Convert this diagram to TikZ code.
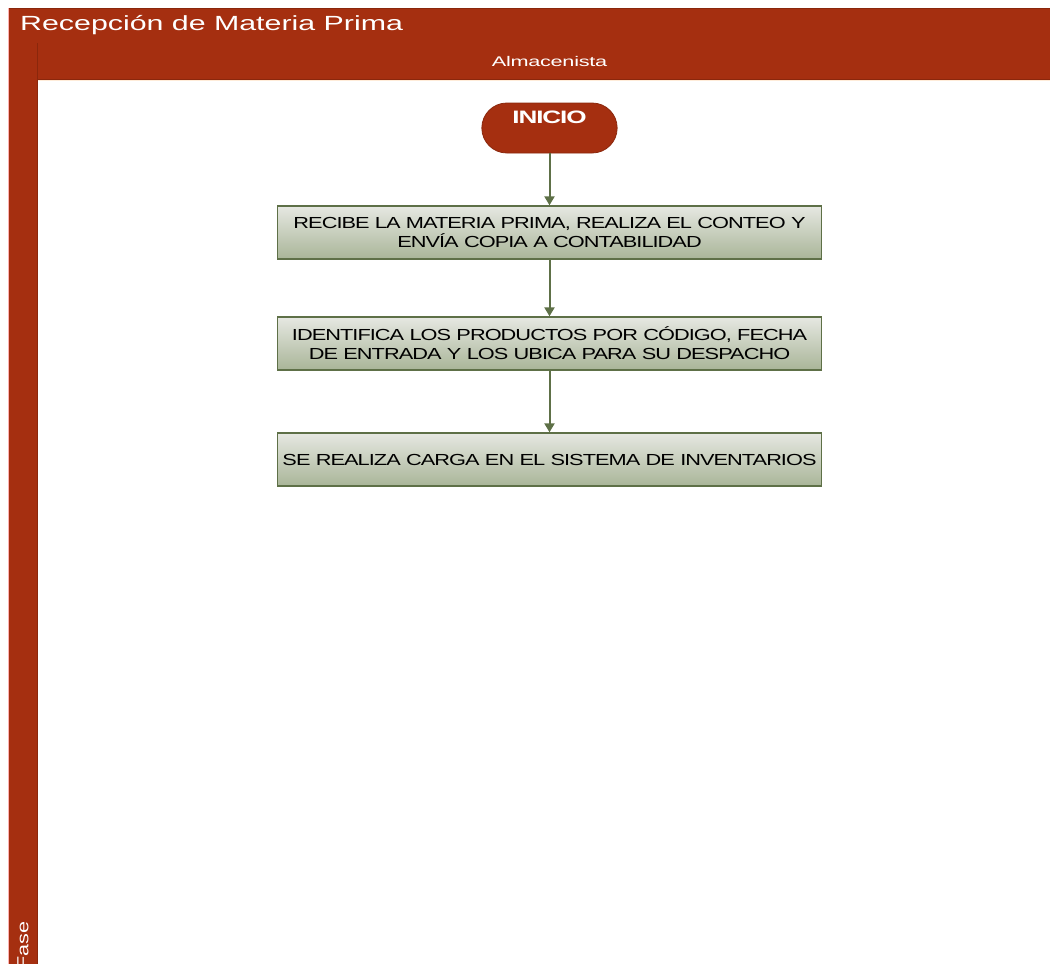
\documentclass[tikz,border=0pt]{standalone}
\usepackage{fontspec}
\setmainfont{Liberation Sans}
\usetikzlibrary{arrows.meta,shapes.misc}
\definecolor{rust}{HTML}{A52F10}
\definecolor{rustdark}{HTML}{8A270C}
\definecolor{olive}{HTML}{5E7047}
\definecolor{boxtop}{HTML}{E6E8E2}
\definecolor{boxbot}{HTML}{A9B598}
\tikzset{
  stepbox/.style={draw=olive, line width=1.3pt, top color=boxtop, bottom color=boxbot,
    minimum width=543pt, minimum height=53pt, inner sep=2pt, align=center,
    text width=540pt, font=\fontsize{16}{19}\selectfont\addfontfeatures{FakeStretch=1.36,LetterSpace=-6}},
  term/.style={rounded rectangle, draw=rustdark, line width=0.8pt, fill=rust,
    minimum width=142pt, minimum height=50pt},
  flow/.style={draw=olive, line width=2pt, -{Triangle[length=9pt,width=10pt]}},
}
\begin{document}
\begin{tikzpicture}[x=1pt,y=-1pt]
\useasboundingbox (0,0) rectangle (1050,964);
% title bar
\fill[rust] (8,8) rectangle (1050,43);
\draw[rustdark, line width=1pt] (8,8.5) -- (1050,8.5);
\draw[rustdark, line width=1pt] (8,43) -- (1050,43);
\node[anchor=west, text=white, font=\fontsize{20.5}{22}\selectfont\addfontfeatures{FakeStretch=1.48}, inner sep=0pt] (title) at (20,25) {Recepción de Materia Prima};
% left bar
\fill[rust] (8,43) rectangle (38,980);
\draw[rustdark, line width=1pt] (37.5,43) -- (37.5,980);
\draw[red!30, line width=0.8pt] (8.4,8) -- (8.4,980);
% lane header
\fill[rust] (38,43) rectangle (1050,79);
\draw[rustdark, line width=1pt] (38,79) -- (1050,79);
\draw[orange!15, line width=0.8pt] (38,80) -- (1050,80);
\node[text=white, font=\fontsize{14}{16}\selectfont\addfontfeatures{FakeStretch=1.55,LetterSpace=-2}, inner sep=0pt] (lane) at (549.5,61) {Almacenista};
\node[rotate=90, anchor=west, text=white, font=\fontsize{16}{18}\selectfont\addfontfeatures{FakeStretch=1.35}, inner sep=0pt] (fase) at (23,970) {Fase};
% flow
\node[term] (inicio) at (549.5,128) {};
\node[text=white, font=\bfseries\fontsize{18}{20}\selectfont\addfontfeatures{FakeStretch=1.45,LetterSpace=-6}, inner sep=0pt] (inicioT) at (549.5,117) {INICIO};
\node[stepbox] (b1) at (549.5,232.5) {RECIBE LA MATERIA PRIMA, REALIZA EL CONTEO Y\\ENVÍA COPIA A CONTABILIDAD};
\node[stepbox] (b2) at (549.5,343.5) {IDENTIFICA LOS PRODUCTOS POR CÓDIGO, FECHA\\DE ENTRADA Y LOS UBICA PARA SU DESPACHO};
\node[stepbox] (b3) at (549.5,459.5) {SE REALIZA CARGA EN EL SISTEMA DE INVENTARIOS};
\draw[flow] (inicio) -- (b1);
\draw[flow] (b1) -- (b2);
\draw[flow] (b2) -- (b3);
\end{tikzpicture}
\end{document}
